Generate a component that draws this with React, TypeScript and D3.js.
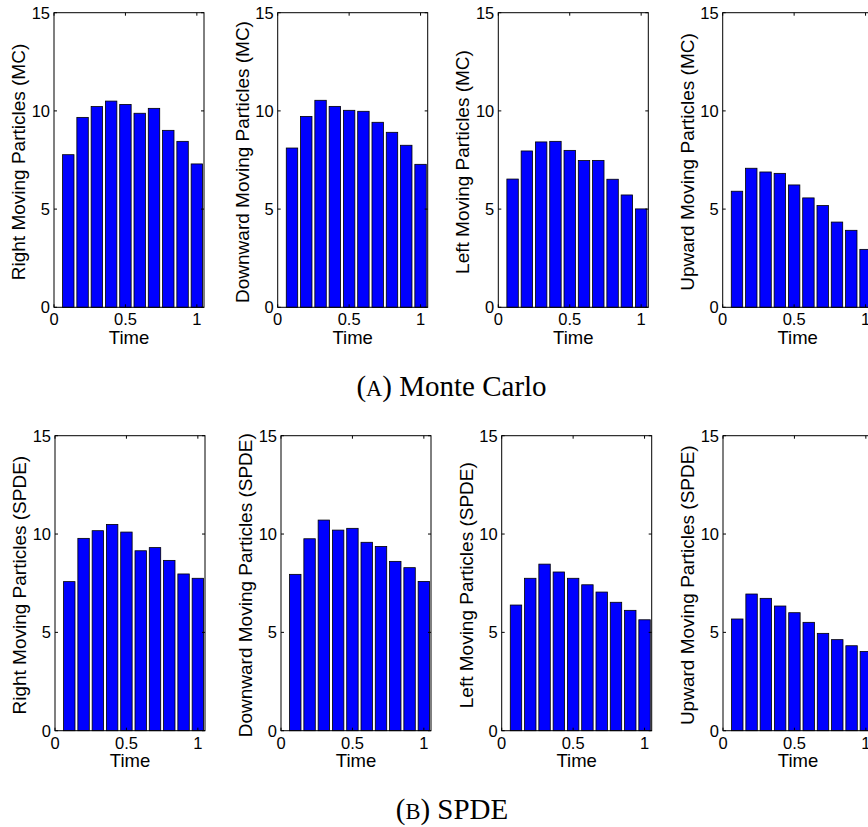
import React from "react";
import * as d3 from "d3";

// Time bins (bar centres)
const times = [0.1, 0.2, 0.3, 0.4, 0.5, 0.6, 0.7, 0.8, 0.9, 1.0];

// Monte Carlo counts
const rightMC = [7.77, 9.67, 10.22, 10.5, 10.33, 9.88, 10.13, 9.01, 8.45, 7.3];
const downMC = [8.11, 9.72, 10.54, 10.23, 10.03, 9.98, 9.42, 8.91, 8.25, 7.28];
const leftMC = [6.53, 7.96, 8.42, 8.45, 7.99, 7.47, 7.48, 6.52, 5.72, 5.01];
const upMC = [5.91, 7.08, 6.89, 6.82, 6.23, 5.57, 5.18, 4.34, 3.92, 2.95];

// SPDE counts
const rightSPDE = [7.58, 9.78, 10.17, 10.49, 10.1, 9.15, 9.31, 8.66, 7.97, 7.75];
const downSPDE = [7.95, 9.76, 10.71, 10.2, 10.29, 9.58, 9.37, 8.61, 8.29, 7.59];
const leftSPDE = [6.39, 7.75, 8.47, 8.07, 7.75, 7.42, 7.05, 6.53, 6.12, 5.64];
const upSPDE = [5.68, 6.95, 6.73, 6.34, 6.0, 5.51, 4.95, 4.63, 4.32, 4.03];

const yTicks = [0, 5, 10, 15];
const xTicks = [0, 0.5, 1];
const xTickLabels = ["0", "0.5", "1"];
const yTickLabels = ["0", "5", "10", "15"];

const mcLabels = [
  "Right Moving Particles (MC)",
  "Downward Moving Particles (MC)",
  "Left Moving Particles (MC)",
  "Upward Moving Particles (MC)",
];
const spdeLabels = [
  "Right Moving Particles (SPDE)",
  "Downward Moving Particles (SPDE)",
  "Left Moving Particles (SPDE)",
  "Upward Moving Particles (SPDE)",
];

const W = 868;
const H = 827;
const SANS = "'Liberation Sans', Arial, Helvetica, sans-serif";
const SERIF = "'Liberation Serif', 'DejaVu Serif', serif";

type PanelProps = {
  left: number;
  top: number;
  bottom: number;
  values: number[];
  ylabel: string;
};

function Panel({ left, top, bottom, values, ylabel }: PanelProps) {
  const x = d3.scaleLinear().domain([0, 1.05]).range([left, left + 150]);
  const y = d3.scaleLinear().domain([0, 15]).range([bottom, top]);
  const bw = x(0.08) - x(0);
  const tl = 3;
  const [x0, x1] = x.range();
  const [y0, y1] = y.range();
  return (
    <g>
      {values.map((v, i) => (
        <rect
          key={i}
          x={x(times[i]) - bw / 2}
          y={y(v)}
          width={bw}
          height={y(0) - y(v)}
          fill="#0000ff"
          stroke="#000"
          strokeWidth={0.8}
        />
      ))}
      <rect x={x0} y={y1} width={x1 - x0} height={y0 - y1} fill="none" stroke="#000" strokeWidth={1} />
      {yTicks.map((t, i) => (
        <g key={"y" + i}>
          <line x1={x0} x2={x0 + tl} y1={y(t)} y2={y(t)} stroke="#000" />
          <line x1={x1} x2={x1 - tl} y1={y(t)} y2={y(t)} stroke="#000" />
          <text
            x={x0 - 4}
            y={y(t)}
            dy="0.36em"
            textAnchor="end"
            fontFamily={SANS}
            fontSize={16.5}
            fill="#000"
          >
            {yTickLabels[i]}
          </text>
        </g>
      ))}
      {xTicks.map((t, i) => (
        <g key={"x" + i}>
          <line x1={x(t)} x2={x(t)} y1={y1} y2={y1 + tl} stroke="#000" />
          <line x1={x(t)} x2={x(t)} y1={y0} y2={y0 - tl} stroke="#000" />
          <text
            x={x(t)}
            y={y0 + 18}
            textAnchor="middle"
            fontFamily={SANS}
            fontSize={16.5}
            fill="#000"
          >
            {xTickLabels[i]}
          </text>
        </g>
      ))}
      <text
        x={(x0 + x1) / 2}
        y={y0 + 36.5}
        textAnchor="middle"
        fontFamily={SANS}
        fontSize={18.5}
        fill="#000"
      >
        Time
      </text>
      <text
        transform={`translate(${x0 - 29},${(y0 + y1) / 2 + 2}) rotate(-90)`}
        textAnchor="middle"
        fontFamily={SANS}
        fontSize={19}
        fill="#000"
      >
        {ylabel}
      </text>
    </g>
  );
}

export default function App() {
  const mcData = [rightMC, downMC, leftMC, upMC];
  const spdeData = [rightSPDE, downSPDE, leftSPDE, upSPDE];
  const topLefts = [54, 277.7, 498.3, 722.7];
  const botLefts = [55, 281, 501.7, 723];
  return (
    <svg
      width={W}
      height={H}
      style={{ position: "absolute", left: 0, top: 0, background: "#fff" }}
    >
      <rect width={W} height={H} fill="#fff" />
      {mcData.map((vals, i) => (
        <Panel key={"mc" + i} left={topLefts[i]} top={12.7} bottom={307.3} values={vals} ylabel={mcLabels[i]} />
      ))}
      {spdeData.map((vals, i) => (
        <Panel key={"sp" + i} left={botLefts[i]} top={435.7} bottom={730.7} values={vals} ylabel={spdeLabels[i]} />
      ))}
      <text x={451.5} y={396} textAnchor="middle" fontFamily={SERIF} fontSize={29} fill="#000">
        (<tspan fontSize={22.5}>A</tspan>) Monte Carlo
      </text>
      <text x={452} y={819} textAnchor="middle" fontFamily={SERIF} fontSize={29} fill="#000">
        (<tspan fontSize={22.5}>B</tspan>) SPDE
      </text>
    </svg>
  );
}
